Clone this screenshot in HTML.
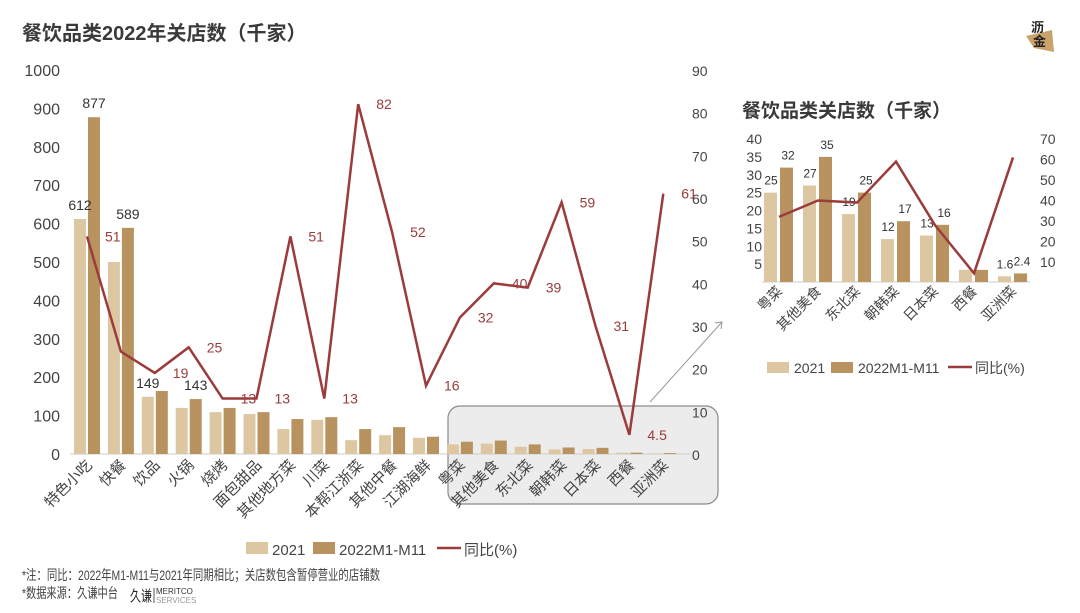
<!DOCTYPE html>
<html><head><meta charset="utf-8"><style>
body{margin:0;width:1080px;height:608px;background:#fff;overflow:hidden;font-family:"Liberation Sans","Noto Sans CJK SC",sans-serif}
svg text{font-family:"Liberation Sans","Noto Sans CJK SC",sans-serif}
</style></head><body>
<svg id="c" width="1080" height="608">
<text x="22" y="40" font-size="20" font-weight="bold" fill="#3a3a3a">餐饮品类2022年关店数（千家）</text>
<g>
<polygon points="1026,36 1052,30 1054,52 1034,48" fill="#c9a36b"/>
<text x="1031" y="32" font-size="13" font-weight="bold" fill="#222">沥</text>
<text x="1033" y="46" font-size="13" font-weight="bold" fill="#222">金</text>
</g>
<rect x="448" y="406" width="270" height="98" rx="12" fill="#e4e4e4" fill-opacity="0.7" stroke="#8a8a8a" stroke-width="1.2"/>
<line x1="650" y1="402" x2="722" y2="322" stroke="#999" stroke-width="1"/>
<polyline points="715,323 722,322 721,329" fill="none" stroke="#999" stroke-width="1"/>
<text x="742" y="117" font-size="19" font-weight="bold" fill="#3a3a3a">餐饮品类关店数（千家）</text>
<g>
<rect x="246" y="542" width="22" height="12" fill="#dcc7a2"/><text x="272" y="555" font-size="15" fill="#444">2021</text>
<rect x="313" y="542" width="22" height="12" fill="#b8935f"/><text x="339" y="555" font-size="15" fill="#444">2022M1-M11</text>
<line x1="437" y1="548" x2="461" y2="548" stroke="#9b3b3b" stroke-width="2.5"/><text x="464" y="555" font-size="15" fill="#444">同比(%)</text>
</g>
<g>
<rect x="767" y="362" width="22" height="11" fill="#dcc7a2"/><text x="794" y="373" font-size="14" fill="#444">2021</text>
<rect x="831" y="362" width="22" height="11" fill="#b8935f"/><text x="858" y="373" font-size="14" fill="#444">2022M1-M11</text>
<line x1="948" y1="367" x2="972" y2="367" stroke="#9b3b3b" stroke-width="2.5"/><text x="975" y="373" font-size="14" fill="#444">同比(%)</text>
</g>
<text x="22" y="580" font-size="14" fill="#444" textLength="358" lengthAdjust="spacingAndGlyphs">*注：同比：2022年M1-M11与2021年同期相比；关店数包含暂停营业的店铺数</text>
<text x="22" y="598" font-size="14" fill="#444" textLength="96" lengthAdjust="spacingAndGlyphs">*数据来源：久谦中台</text>
<text x="130" y="601" font-size="15" fill="#222" textLength="22" lengthAdjust="spacingAndGlyphs">久谦</text>
<line x1="154" y1="588" x2="154" y2="603" stroke="#555"/>
<text x="156" y="594" font-size="8" fill="#333">MERITCO</text><text x="156" y="603" font-size="8" fill="#999">SERVICES</text>
</svg>
<script>
const categories=["特色小吃","快餐","饮品","火锅","烧烤","面包甜品","其他地方菜","川菜","本帮江浙菜","其他中餐","江湖海鲜","粤菜","其他美食","东北菜","朝韩菜","日本菜","西餐","亚洲菜"];
const v2021=[612,500,149,120,109,104,65,89,36,49,42,25,27,19,12,13,3.4,1.6];
const v2022=[877,589,164,143,120,109,91,96,65,70,45,32,35,25,17,16,3.4,2.4];
const yoy=[51,24,19,25,13,13,51,13,82,52,16,32,40,39,59,30,4.5,61];
const barLabels2021=["612","","149","","","","","","","","","","","","","","",""];
const barLabels2022=["877","589","","143","","","","","","","","","","","","","",""];
const yoyLabels=["51","","19","25","13","13","51","13","82","52","16","32","40","39","59","31","4.5","61"];
const leftTicks=[0,100,200,300,400,500,600,700,800,900,1000];
const rightTicks=[0,10,20,30,40,50,60,70,80,90];
const insetCats=["粤菜","其他美食","东北菜","朝韩菜","日本菜","西餐","亚洲菜"];
const in2021=[25,27,19,12,13,3.4,1.6];
const in2022=[32,35,25,17,16,3.4,2.4];
const inYoy=[32,40,39,59,28,4.5,61];
const in2021Labels=["25","27","19","12","13","","1.6"];
const in2022Labels=["32","35","25","17","16","","2.4"];
const inLeftTicks=[5,10,15,20,25,30,35,40];
const inRightTicks=[10,20,30,40,50,60,70];

const svg=document.getElementById('c');const NS='http://www.w3.org/2000/svg';
function mk(t,a,txt){const e=document.createElementNS(NS,t);for(const k in a)e.setAttribute(k,a[k]);if(txt!==undefined)e.textContent=txt;svg.appendChild(e);return e;}
const x=i=>87+i*33.9, yL=v=>454-v*0.384, yR=v=>454-v*384/90;
mk('line',{x1:70,y1:454,x2:690,y2:454,stroke:'#ccc'});
leftTicks.forEach(t=>{const e=mk('text',{x:60,y:yL(t)+6,'font-size':16,fill:'#444','text-anchor':'end'},t);

});
rightTicks.forEach(t=>{const e=mk('text',{x:692,y:yR(t)+6,'font-size':14,fill:'#444'},t);

});
categories.forEach((c,i)=>{
 const b1=mk('rect',{x:x(i)-13,y:yL(v2021[i]),width:12,height:v2021[i]*0.384,fill:'#dcc7a2'});
 
 
 const b2=mk('rect',{x:x(i)+1,y:yL(v2022[i]),width:12,height:v2022[i]*0.384,fill:'#b8935f'});
 
 
 if(barLabels2021[i])mk('text',{x:x(i)-7,y:yL(v2021[i])-9,'font-size':14,fill:'#333','text-anchor':'middle'},barLabels2021[i]);
 if(barLabels2022[i])mk('text',{x:x(i)+7,y:yL(v2022[i])-9,'font-size':14,fill:'#333','text-anchor':'middle'},barLabels2022[i]);
 const l=mk('text',{x:x(i)+6,y:466,'font-size':15,fill:'#444','text-anchor':'end',transform:`rotate(-45 ${x(i)+6} 466)`},c);
 
 
 if(yoyLabels[i])mk('text',{x:x(i)+18,y:yR(yoy[i])+5,'font-size':14,fill:'#9b3b3b'},yoyLabels[i]);
});
const pl=mk('polyline',{points:yoy.map((v,i)=>`${x(i)},${yR(v)}`).join(' '),fill:'none',stroke:'#9b3b3b','stroke-width':2.5});


const ix=i=>779+i*39, iyL=v=>282-v*3.575, iyR=v=>282.5-v*2.05;
mk('line',{x1:762,y1:282,x2:1030,y2:282,stroke:'#ccc'});
inLeftTicks.forEach(t=>{const e=mk('text',{x:762,y:iyL(t)+5,'font-size':14,fill:'#444','text-anchor':'end'},t);

});
inRightTicks.forEach(t=>{const e=mk('text',{x:1040,y:iyR(t)+5,'font-size':14,fill:'#444'},t);

});
insetCats.forEach((c,i)=>{
 const b1=mk('rect',{x:ix(i)-15,y:iyL(in2021[i]),width:13,height:in2021[i]*3.575,fill:'#dcc7a2'});
 
 
 const b2=mk('rect',{x:ix(i)+1,y:iyL(in2022[i]),width:13,height:in2022[i]*3.575,fill:'#b8935f'});
 
 
 if(in2021Labels[i])mk('text',{x:ix(i)-8,y:iyL(in2021[i])-8,'font-size':12,fill:'#333','text-anchor':'middle'},in2021Labels[i]);
 if(in2022Labels[i])mk('text',{x:ix(i)+9,y:iyL(in2022[i])-8,'font-size':12,fill:'#333','text-anchor':'middle'},in2022Labels[i]);
 const l=mk('text',{x:ix(i)+4,y:292,'font-size':14,fill:'#444','text-anchor':'end',transform:`rotate(-45 ${ix(i)+4} 292)`},c);
 
 
});
const ipl=mk('polyline',{points:inYoy.map((v,i)=>`${ix(i)},${iyR(v)}`).join(' '),fill:'none',stroke:'#9b3b3b','stroke-width':2.5});


</script>
</body></html>
